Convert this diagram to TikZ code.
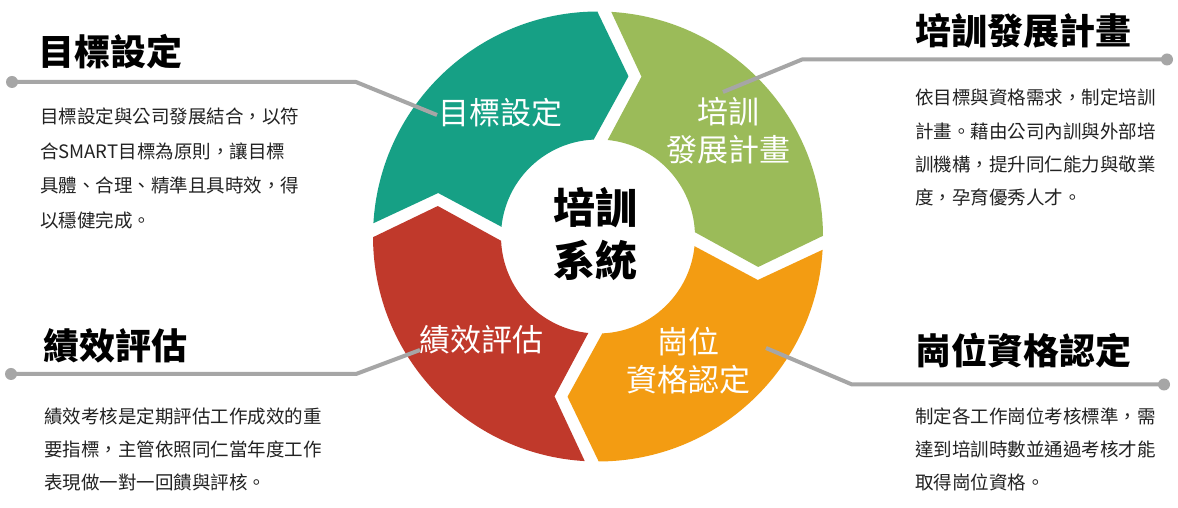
\documentclass[tikz,border=0pt]{standalone}
\usepackage{fontspec}
\setmainfont{Noto Sans CJK TC}
\usetikzlibrary{calc}
\definecolor{segteal}{HTML}{16A085}
\definecolor{seggreen}{HTML}{9BBB59}
\definecolor{segorange}{HTML}{F39C12}
\definecolor{segred}{HTML}{C0392B}
\definecolor{leadergray}{HTML}{A6A6A6}
\definecolor{bodytext}{HTML}{222222}
\newcommand\cyclesegment[2]{%
  \pgfmathsetmacro\phS{#2}%
  \pgfmathsetmacro\phE{#2-90}%
  \fill[#1] ($(C)+(\phS-1.78:225)$) arc[start angle=\phS-1.78, end angle=\phE+1.78, radius=225]
    -- ($(C)+(\phE:161)+(\phE-90:26)$) -- ($(C)+(\phE+4.14:97)$)
    arc[start angle=\phE+4.14, end angle=\phS-4.14, radius=97]
    -- ($(C)+(\phS:161)+(\phS-90:39)$) -- cycle;}
\tikzset{
  seglabel/.style={text=white, font=\fontsize{31}{31}\selectfont, anchor=base, inner sep=0pt},
  centerlabel/.style={text=black, font=\fontsize{42}{42}\selectfont\bfseries, anchor=base, inner sep=0pt},
  heading/.style={text=black, font=\fontsize{36}{36}\selectfont\bfseries, anchor=base west, inner sep=0pt},
  bodyline/.style={text=bodytext, font=\fontsize{18.5}{18.5}\selectfont, anchor=base west, inner sep=0pt},
  leader/.style={draw=leadergray, line width=4pt, line join=round},
  leaderdot/.style={circle, fill=leadergray, minimum size=12pt, inner sep=0pt},
}
\begin{document}
\begin{tikzpicture}[x=1pt,y=1pt]
\fill[white] (0,0) rectangle (1178,508);
\useasboundingbox (0,0) rectangle (1178,508);
\coordinate (C) at (598,271.5);
% segments (clockwise flow)
\cyclesegment{segteal}{178.4}
\cyclesegment{seggreen}{88.4}
\cyclesegment{segorange}{-1.6}
\cyclesegment{segred}{-91.6}
% segment labels
\node[seglabel] (sgoal) at (500,383) {目標設定};
\node[seglabel] (strain1) at (728,384) {培訓};
\node[seglabel] (strain2) at (728.5,346) {發展計畫};
\node[seglabel] (sperf) at (481,156) {績效評估};
\node[seglabel] (squal1) at (688,154) {崗位};
\node[seglabel] (squal2) at (688,116) {資格認定};
% center
\node[centerlabel] (ctop) at (595,284) {培訓};
\node[centerlabel] (cbot) at (595,231) {系統};
% leader lines
\coordinate (tlend) at (437,393);
\coordinate (tlbend) at (356,426);
\node[leaderdot] (tldot) at (12,426) {};
\draw[leader] (tlend) -- (tlbend) -- (tldot.center);
\coordinate (trend) at (723,416);
\coordinate (trbend) at (802,448.5);
\node[leaderdot] (trdot) at (1167,448.5) {};
\draw[leader] (trend) -- (trbend) -- (trdot.center);
\coordinate (blend) at (420,158);
\coordinate (blbend) at (356,134);
\node[leaderdot] (bldot) at (11,134) {};
\draw[leader] (blend) -- (blbend) -- (bldot.center);
\coordinate (brend) at (766,160);
\coordinate (brbend) at (852,123.5);
\node[leaderdot] (brdot) at (1164,123.5) {};
\draw[leader] (brend) -- (brbend) -- (brdot.center);
% headings
\node[heading] (hgoal) at (38,442) {目標設定};
\node[heading] (htrain) at (915,463) {培訓發展計畫};
\node[heading] (hperf) at (43,148) {績效評估};
\node[heading] (hqual) at (915,143) {崗位資格認定};
% body texts
\node[bodyline] (tl1) at (40,384) {目標設定與公司發展結合，以符};
\node[bodyline] (tl2) at (40,349.5) {合SMART目標為原則，讓目標};
\node[bodyline] (tl3) at (40,315) {具體、合理、精準且具時效，得};
\node[bodyline] (tl4) at (40,280.5) {以穩健完成。};
\node[bodyline] (tr1) at (915,403) {依目標與資格需求，制定培訓};
\node[bodyline] (tr2) at (915,369) {計畫。藉由公司內訓與外部培};
\node[bodyline] (tr3) at (915,336) {訓機構，提升同仁能力與敬業};
\node[bodyline] (tr4) at (915,303) {度，孕育優秀人才。};
\node[bodyline] (bl1) at (44,84) {績效考核是定期評估工作成效的重};
\node[bodyline] (bl2) at (44,51) {要指標，主管依照同仁當年度工作};
\node[bodyline] (bl3) at (44,18) {表現做一對一回饋與評核。};
\node[bodyline] (br1) at (915,84) {制定各工作崗位考核標準，需};
\node[bodyline] (br2) at (915,51) {達到培訓時數並通過考核才能};
\node[bodyline] (br3) at (915,18) {取得崗位資格。};
\end{tikzpicture}
\end{document}
